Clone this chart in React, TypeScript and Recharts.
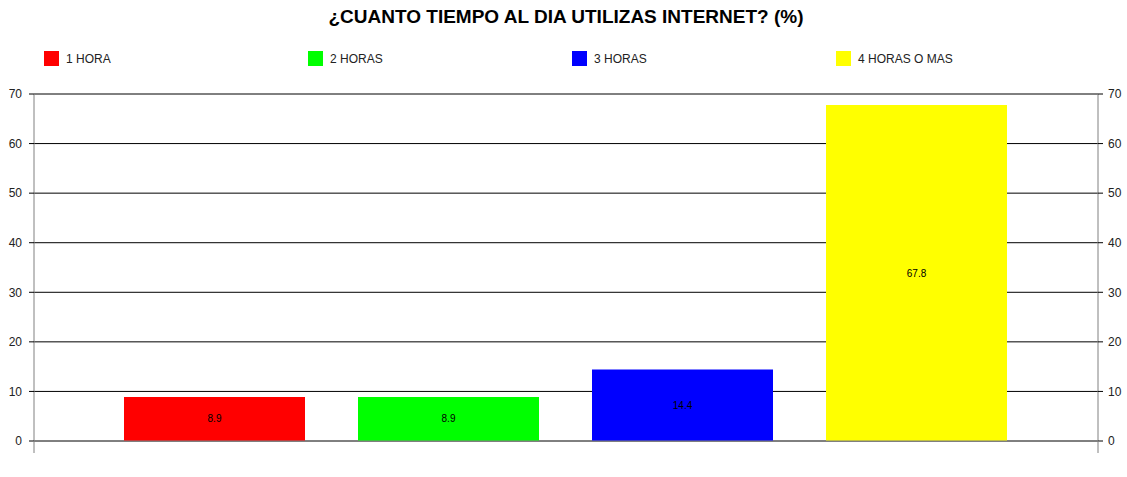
import React from "react";
import { BarChart, Bar, XAxis, YAxis, CartesianGrid, LabelList } from "recharts";

const title = "¿CUANTO TIEMPO AL DIA UTILIZAS INTERNET? (%)";
const categories = [""];
const seriesNames = ["1 HORA", "2 HORAS", "3 HORAS", "4 HORAS O MAS"];
const seriesValues = [8.9, 8.9, 14.4, 67.8];
const seriesColors = ["#ff0000", "#00ff00", "#0000ff", "#ffff00"];
const yTicks = [0, 10, 20, 30, 40, 50, 60, 70];

const data = categories.map((c) => {
  const row: Record<string, string | number> = { cat: c };
  seriesNames.forEach((n, i) => {
    row["s" + i] = seriesValues[i];
  });
  return row;
});

const font = "Arial, 'Liberation Sans', sans-serif";

// draws the category boundary ticks that hang below the baseline
function EdgeTick(props: any) {
  const { y, payload } = props;
  const left = payload.coordinate - payload.offset;
  const right = payload.coordinate + payload.offset;
  return (
    <g>
      <line x1={left} x2={left} y1={y} y2={y + 12} stroke="#808080" />
      <line x1={right} x2={right} y1={y} y2={y + 12} stroke="#808080" />
    </g>
  );
}

export default function App() {
  return (
    <div
      style={{
        position: "absolute",
        left: 0,
        top: 0,
        width: 1127,
        height: 477,
        background: "#fff",
        fontFamily: font,
      }}
    >
      <div
        style={{
          position: "absolute",
          top: 6,
          left: 0,
          width: 1132,
          textAlign: "center",
          fontWeight: "bold",
          fontSize: 19,
          color: "#000",
        }}
      >
        {title}
      </div>
      <div style={{ position: "absolute", top: 51, left: 44, display: "flex" }}>
        {seriesNames.map((n, i) => (
          <div key={n} style={{ width: 264, display: "flex", alignItems: "center" }}>
            <span
              style={{
                display: "inline-block",
                width: 15,
                height: 15,
                background: seriesColors[i],
                marginRight: 7,
              }}
            />
            <span style={{ fontSize: 12, color: "#222", marginTop: 1 }}>{n}</span>
          </div>
        ))}
      </div>
      <BarChart
        width={1127}
        height={477}
        data={data}
        margin={{ top: 94, right: 0, bottom: 24, left: 0 }}
        barCategoryGap={90}
        barGap={53}
      >
        <CartesianGrid yAxisId="left" vertical={false} stroke="#000" />
        <XAxis
          dataKey="cat"
          height={12}
          axisLine={{ stroke: "#808080" }}
          tickLine={false}
          tickSize={0}
          tickMargin={0}
          tick={<EdgeTick />}
        />
        <YAxis
          yAxisId="left"
          width={34}
          domain={[0, 70]}
          ticks={yTicks}
          allowDataOverflow
          axisLine={{ stroke: "#808080" }}
          tickLine={{ stroke: "#000" }}
          tickSize={5}
          tickMargin={7}
          tick={{ fill: "#222", fontSize: 12, fontFamily: font }}
        />
        <YAxis
          yAxisId="right"
          orientation="right"
          width={29}
          domain={[0, 70]}
          ticks={yTicks}
          allowDataOverflow
          axisLine={{ stroke: "#808080" }}
          tickLine={{ stroke: "#000" }}
          tickSize={5}
          tickMargin={5}
          tick={{ fill: "#222", fontSize: 12, fontFamily: font }}
        />
        {seriesNames.map((n, i) => (
          <Bar
            key={n}
            yAxisId="left"
            dataKey={"s" + i}
            name={n}
            fill={seriesColors[i]}
            isAnimationActive={false}
          >
            <LabelList
              dataKey={"s" + i}
              position="center"
              fill="#000"
              fontSize={10}
              fontFamily={font}
            />
          </Bar>
        ))}
      </BarChart>
    </div>
  );
}
